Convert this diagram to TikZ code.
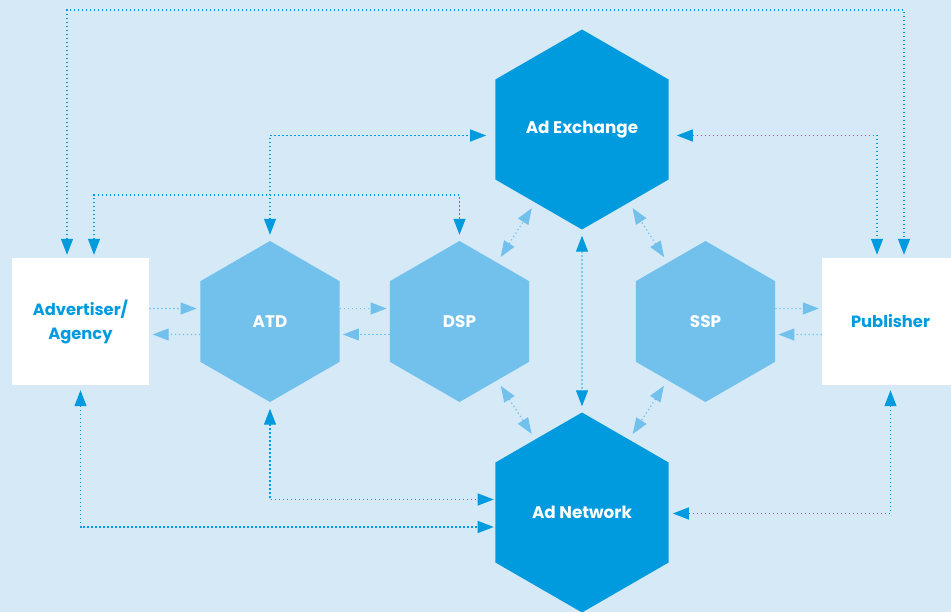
\documentclass[tikz,border=0pt]{standalone}
\usepackage{fontspec}
\setsansfont{Poppins}
\usetikzlibrary{shapes.geometric,arrows.meta}
\definecolor{bgblue}{HTML}{D5E9F7}
\definecolor{darkblue}{HTML}{009BDF}
\definecolor{lightblue}{HTML}{72C1EC}

\begin{document}
\begin{tikzpicture}[x=1pt,y=-1pt,
  >={Triangle[length=16pt,width=12pt]},
  hex/.style={regular polygon,regular polygon sides=6,shape border rotate=30,
    inner sep=0pt,text=white,font=\sffamily\bfseries\fontsize{16.8}{18}\selectfont},
  bighex/.style={hex,fill=darkblue,minimum size=200pt},
  smallhex/.style={hex,fill=lightblue,minimum size=161pt},
  party/.style={rectangle,fill=white,minimum width=137pt,minimum height=127pt,
    inner sep=0pt,text=darkblue,align=center,
    font=\sffamily\bfseries\fontsize{16.3}{24}\selectfont},
  link/.style={line width=1.2pt,dash pattern=on 1.3pt off 2.7pt},
  dlink/.style={link,draw=darkblue},
  llink/.style={link,draw=lightblue}]
  \useasboundingbox (0,0) rectangle (951,612);
  \fill[bgblue] (0,0) rectangle (951,612);

  \node[bighex] (adex) at (582,129.5) {Ad Exchange};
  \node[bighex] (adnet) at (582,512.5) {Ad Network};
  \node[smallhex] (atd) at (270,321.5) {ATD};
  \node[smallhex] (dsp) at (459.5,321.5) {DSP};
  \node[smallhex] (ssp) at (705.5,321.5) {SSP};
  \node[party] (adv) at (80.5,321.5) {Advertiser/\\Agency};
  \node[party] (pub) at (890.5,321.5) {Publisher};
  \coordinate (top) at (480,10);
  \coordinate (mid) at (280,195);

  \draw[dlink,<->,shorten <=3pt,shorten >=3pt] ([xshift=-13.5pt]adv.north) |- (top) -| ([xshift=13.5pt]pub.north);
  \draw[dlink,<->,shorten <=3pt,shorten >=6pt] ([xshift=13.5pt]adv.north) |- (mid) -| (dsp.north);
  \draw[dlink,<->,shorten <=6pt,shorten >=9pt] (atd.north) |- ([yshift=-6pt]adex.west);
  \draw[dlink,<->,shorten <=8pt,shorten >=3pt] ([yshift=-6pt]adex.east) -| ([xshift=-13.5pt]pub.north);
  \draw[dlink,<->,shorten <=6pt,shorten >=6pt] (adex) -- (adnet);

  \draw[llink,<->,shorten <=6.5pt,shorten >=6.5pt] (dsp) -- (adex);
  \draw[llink,<->,shorten <=6.5pt,shorten >=6.5pt] (ssp) -- (adex);
  \draw[llink,<->,shorten <=6.5pt,shorten >=6.5pt] (dsp) -- (adnet);
  \draw[llink,<->,shorten <=6.5pt,shorten >=6.5pt] (ssp) -- (adnet);

  \draw[llink,->,shorten >=3.5pt] ([yshift=13pt]adv.east) -- ([yshift=13pt]atd.west);
  \draw[llink,->,shorten >=3.5pt] ([yshift=-13pt]atd.west) -- ([yshift=-13pt]adv.east);
  \draw[llink,->,shorten >=3pt] ([yshift=13pt]atd.east) -- ([yshift=13pt]dsp.west);
  \draw[llink,->,shorten >=3pt] ([yshift=-13pt]dsp.west) -- ([yshift=-13pt]atd.east);
  \draw[llink,->,shorten >=3pt] ([yshift=13pt]ssp.east) -- ([yshift=13pt]pub.west);
  \draw[llink,->,shorten >=3pt] ([yshift=-13pt]pub.west) -- ([yshift=-13pt]ssp.east);

  \draw[dlink,<->,shorten <=5pt,shorten >=1.5pt] (adv.south) |- ([yshift=-14.5pt]adnet.west);
  \draw[dlink,<->,shorten <=6.5pt,shorten >=1.5pt] (atd.south) |- ([yshift=13pt]adnet.west);
  \draw[dlink,<->,shorten <=5pt,shorten >=4pt] (pub.south) |- ([yshift=-1pt]adnet.east);
\end{tikzpicture}
\end{document}
